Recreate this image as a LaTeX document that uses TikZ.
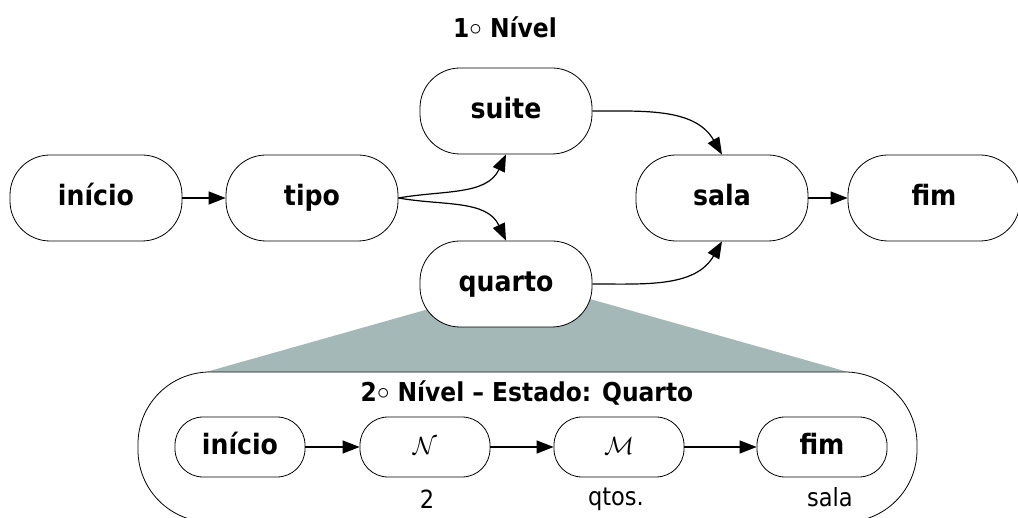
\documentclass[tikz,border=0pt]{standalone}
\usepackage{fontspec}
\setmainfont{DejaVu Sans Condensed}
\usepackage{tikz}
\usetikzlibrary{arrows.meta}

\definecolor{funil}{RGB}{165,184,184}

\newcommand{\grau}{\raisebox{2pt}{$\circ$}}

\begin{document}
\begin{tikzpicture}[
        x=1pt, y=-1pt,
        estado/.style={draw, fill=white, line width=0.8pt, rounded corners=40pt,
            minimum width=172pt, minimum height=86pt,
            text height=20pt, text depth=5pt,
            font=\fontsize{28}{32}\selectfont\bfseries},
        subestado/.style={draw, fill=white, line width=0.8pt, rounded corners=28pt,
            minimum width=130pt, minimum height=60pt,
            text height=20pt, text depth=5pt,
            font=\fontsize{28}{32}\selectfont\bfseries},
        rotulo/.style={font=\fontsize{25}{30}\selectfont},
        titulo/.style={font=\fontsize{26}{30}\selectfont\bfseries},
        seta/.style={line width=1.2pt, -{Triangle[length=17pt,width=13pt]}}
    ]
        \clip (0, 0) rectangle (1018, 518);

        % funil do segundo nivel
        \coordinate (f0) at (496, 290);
        \coordinate (f1) at (558, 290);
        \coordinate (f2) at (848, 372);
        \coordinate (f3) at (206, 372);
        \fill[funil] (f0) -- (f1) -- (f2) -- (f3) -- cycle;

        % 1o nivel
        \node[titulo] (titulo1) at (505, 27) {1\grau{} Nível};

        \node[estado] (inicio) at (96, 198) {início};
        \node[estado] (tipo) at (312, 198) {tipo};
        \node[estado] (suite) at (506, 111) {suite};
        \node[estado] (quarto) at (506, 284) {quarto};
        \node[estado] (sala) at (722, 198) {sala};
        \node[estado] (fim) at (934, 198) {fim};

        \begin{scope}[seta]
            \draw (inicio) -- (tipo);
            \draw (tipo.east) to[out=10, in=-115] (suite.south);
            \draw (tipo.east) to[out=-10, in=115] (quarto.north);
            \draw (suite.east) to[out=0, in=120] (sala.north);
            \draw (quarto.east) to[out=0, in=-120] (sala.south);
            \draw (sala) -- (fim);
        \end{scope}

        % 2o nivel
        \node[draw, fill=white, line width=0.8pt, rounded corners=72pt,
            minimum width=779pt, minimum height=150pt] (nivel2) at (527.5, 447) {};
        \node[titulo] (titulo2) at (527, 393) {2\grau{} Nível -- Estado: Quarto};

        \node[subestado] (inicio2) at (240, 447) {início};
        \node[subestado, font=\fontsize{26}{30}\selectfont] (n) at (425, 447) {$\mathcal{N}$};
        \node[subestado, font=\fontsize{26}{30}\selectfont] (m) at (619, 447) {$\mathcal{M}$};
        \node[subestado] (fim2) at (822, 447) {fim};

        \foreach \a/\b in {inicio2/n, n/m, m/fim2} {
            \draw[seta] (\a) -- (\b);
        }

        \node[rotulo] (rot2) at (427, 499) {2};
        \node[rotulo] (rotqtos) at (616, 499) {qtos.};
        \node[rotulo] (rotsala) at (830, 497) {sala};
    \end{tikzpicture}
\end{document}
